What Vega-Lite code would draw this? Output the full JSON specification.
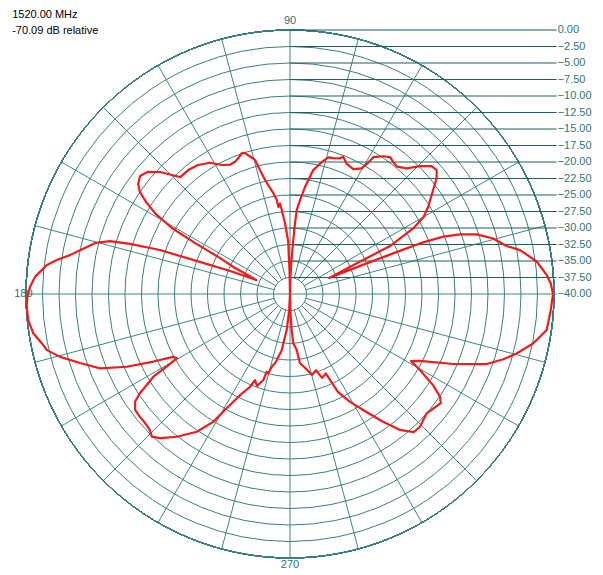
{
  "$schema": "https://vega.github.io/schema/vega-lite/v6.json",
  "width": 528,
  "height": 528,
  "autosize": {"type": "none"},
  "padding": {"left": 26, "top": 30, "right": 49, "bottom": 17},
  "background": "white",
  "config": {"view": {"stroke": null}},
  "datasets": {
    "rings": [
      {"db": 0}, {"db": -2.5}, {"db": -5}, {"db": -7.5}, {"db": -10}, {"db": -12.5}, {"db": -15}, {"db": -17.5},
      {"db": -20}, {"db": -22.5}, {"db": -25}, {"db": -27.5}, {"db": -30}, {"db": -32.5}, {"db": -35}, {"db": -37.5}, {"db": -40}
    ],
    "spokes": [
      {"a": 15}, {"a": 30}, {"a": 45}, {"a": 60}, {"a": 75}, {"a": 105}, {"a": 120}, {"a": 135}, {"a": 150}, {"a": 165},
      {"a": 195}, {"a": 210}, {"a": 225}, {"a": 240}, {"a": 255}, {"a": 285}, {"a": 300}, {"a": 315}, {"a": 330}, {"a": 345}
    ],
    "pattern": [
      {"angle": 0, "db": -0.15}, {"angle": 2.35, "db": -0.47}, {"angle": 4.2, "db": -1.0}, {"angle": 7.5, "db": -2.3},
      {"angle": 10.8, "db": -4.5}, {"angle": 12.5, "db": -6.4}, {"angle": 15.3, "db": -8.1}, {"angle": 17.7, "db": -10.3},
      {"angle": 19.35, "db": -12.7}, {"angle": 20.5, "db": -15.2}, {"angle": 21.3, "db": -18.9}, {"angle": 21.5, "db": -23.2},
      {"angle": 21.8, "db": -27.5}, {"angle": 22.3, "db": -33.6}, {"angle": 24.9, "db": -27.8}, {"angle": 25.6, "db": -23.2},
      {"angle": 28.05, "db": -18.8}, {"angle": 30.0, "db": -16.6}, {"angle": 32.3, "db": -15.2}, {"angle": 36.0, "db": -13.2},
      {"angle": 38.3, "db": -11.7}, {"angle": 40.2, "db": -10.9}, {"angle": 42.1, "db": -11.1}, {"angle": 44.6, "db": -12.4},
      {"angle": 47.1, "db": -14.0}, {"angle": 50.0, "db": -14.8}, {"angle": 52.0, "db": -14.6}, {"angle": 53.8, "db": -14.3},
      {"angle": 55.9, "db": -14.8}, {"angle": 58.6, "db": -15.7}, {"angle": 59.2, "db": -16.8}, {"angle": 60.3, "db": -18.1},
      {"angle": 63.1, "db": -18.8}, {"angle": 66.4, "db": -18.5}, {"angle": 68.8, "db": -17.7}, {"angle": 69.8, "db": -18.1},
      {"angle": 72.3, "db": -18.4}, {"angle": 74.3, "db": -18.5}, {"angle": 76.0, "db": -19.2}, {"angle": 79.4, "db": -20.9},
      {"angle": 82.0, "db": -23.6}, {"angle": 83.9, "db": -25.7}, {"angle": 85.4, "db": -27.2}, {"angle": 86.0, "db": -29.3},
      {"angle": 86.5, "db": -31.8}, {"angle": 87.5, "db": -35.0}, {"angle": 88.5, "db": -37.5}, {"angle": 90, "db": -40},
      {"angle": 91.2, "db": -36.5}, {"angle": 92.0, "db": -32.0}, {"angle": 94.0, "db": -29.3}, {"angle": 95.6, "db": -27.2},
      {"angle": 96.3, "db": -26.2}, {"angle": 97.6, "db": -26.7}, {"angle": 98.0, "db": -25.6}, {"angle": 99.4, "db": -24.5},
      {"angle": 101.3, "db": -23.2}, {"angle": 102.8, "db": -21.8}, {"angle": 104.0, "db": -20.1}, {"angle": 104.6, "db": -19.0},
      {"angle": 106.2, "db": -18.3}, {"angle": 107.7, "db": -17.6}, {"angle": 108.9, "db": -17.45}, {"angle": 110.9, "db": -18.0},
      {"angle": 112.6, "db": -18.3}, {"angle": 114.9, "db": -18.4}, {"angle": 117.8, "db": -17.9}, {"angle": 121.4, "db": -16.7},
      {"angle": 125.5, "db": -16.0}, {"angle": 129.4, "db": -15.7}, {"angle": 133.2, "db": -15.7}, {"angle": 134.8, "db": -14.6},
      {"angle": 136.8, "db": -13.0}, {"angle": 139.3, "db": -11.6}, {"angle": 141.8, "db": -11.1}, {"angle": 144.1, "db": -11.6},
      {"angle": 145.8, "db": -12.5}, {"angle": 147.4, "db": -14.1}, {"angle": 149.2, "db": -16.3}, {"angle": 150.8, "db": -19.5},
      {"angle": 151.8, "db": -23.7}, {"angle": 152.8, "db": -28.1}, {"angle": 154.5, "db": -30.5}, {"angle": 157.5, "db": -34.5},
      {"angle": 159.0, "db": -30.3}, {"angle": 160.4, "db": -25.5}, {"angle": 161.3, "db": -19.2}, {"angle": 162.6, "db": -14.6},
      {"angle": 163.6, "db": -11.6}, {"angle": 165.3, "db": -9.5}, {"angle": 168.2, "db": -7.5}, {"angle": 169.9, "db": -6.2},
      {"angle": 171.7, "db": -4.3}, {"angle": 173.2, "db": -2.9}, {"angle": 176.1, "db": -1.3}, {"angle": 178.4, "db": -0.6},
      {"angle": 180.6, "db": -0.2}, {"angle": 182.8, "db": -0.06}, {"angle": 185.7, "db": -0.15}, {"angle": 188.7, "db": -0.65},
      {"angle": 191.2, "db": -1.65}, {"angle": 193.0, "db": -2.2}, {"angle": 195.3, "db": -3.9}, {"angle": 198.2, "db": -6.5},
      {"angle": 201.4, "db": -9.1}, {"angle": 204.0, "db": -12.9}, {"angle": 206.3, "db": -16.9}, {"angle": 208.3, "db": -19.9},
      {"angle": 209.6, "db": -20.3}, {"angle": 210.5, "db": -18.3}, {"angle": 211.2, "db": -15.8}, {"angle": 213.5, "db": -12.7},
      {"angle": 214.8, "db": -11.4}, {"angle": 216.8, "db": -10.7}, {"angle": 219.3, "db": -10.6}, {"angle": 221.7, "db": -10.6},
      {"angle": 224.2, "db": -10.4}, {"angle": 225.9, "db": -9.9}, {"angle": 228.0, "db": -10.6}, {"angle": 231.6, "db": -12.4},
      {"angle": 235.9, "db": -14.8}, {"angle": 239.0, "db": -17.4}, {"angle": 241.0, "db": -20.2}, {"angle": 243.7, "db": -22.9},
      {"angle": 246.7, "db": -24.7}, {"angle": 247.9, "db": -25.9}, {"angle": 250.3, "db": -25.2}, {"angle": 252.8, "db": -26.4},
      {"angle": 253.3, "db": -27.7}, {"angle": 254.7, "db": -27.5}, {"angle": 255.9, "db": -28.6}, {"angle": 258.3, "db": -29.5},
      {"angle": 261.6, "db": -31.4}, {"angle": 263.3, "db": -33.5}, {"angle": 264.8, "db": -34.5}, {"angle": 267.0, "db": -37.5},
      {"angle": 270, "db": -40}, {"angle": 271.5, "db": -37.0}, {"angle": 272.7, "db": -34.5}, {"angle": 273.8, "db": -32.5},
      {"angle": 276.8, "db": -31.5}, {"angle": 278.2, "db": -29.4}, {"angle": 281.5, "db": -28.6}, {"angle": 285.2, "db": -27.3},
      {"angle": 288.9, "db": -27.8}, {"angle": 290.9, "db": -26.4}, {"angle": 294.2, "db": -26.8}, {"angle": 296.1, "db": -23.5},
      {"angle": 299.1, "db": -21.3}, {"angle": 302.7, "db": -18.9}, {"angle": 305.9, "db": -16.2}, {"angle": 309.0, "db": -13.5},
      {"angle": 311.9, "db": -11.9}, {"angle": 314.4, "db": -11.85}, {"angle": 316.5, "db": -12.2}, {"angle": 319.0, "db": -12.5},
      {"angle": 324.1, "db": -11.8}, {"angle": 325.6, "db": -12.45}, {"angle": 327.5, "db": -14.3}, {"angle": 329.7, "db": -17.2},
      {"angle": 331.0, "db": -19.05}, {"angle": 332.8, "db": -17.86}, {"angle": 336.8, "db": -13.08}, {"angle": 340.4, "db": -8.36},
      {"angle": 343.0, "db": -6.2}, {"angle": 345.3, "db": -4.5}, {"angle": 348.5, "db": -2.42}, {"angle": 352.0, "db": -0.73},
      {"angle": 356.5, "db": -0.42}, {"angle": 360, "db": -0.15}
    ]
  },
  "layer": [
    {
      "data": {"name": "rings"},
      "mark": {"type": "arc", "theta": 0, "theta2": 6.2832, "filled": false, "stroke": "#3a7e7e", "strokeWidth": 1},
      "encoding": {
        "radius": {"field": "db", "type": "quantitative", "stack": null, "scale": {"type": "linear", "domain": [-40, 0], "range": [0, 264], "zero": false}}
      }
    },
    {
      "data": {"name": "spokes"},
      "transform": [
        {"calculate": "2.5*cos(datum.a*PI/180)", "as": "xa"},
        {"calculate": "2.5*sin(datum.a*PI/180)", "as": "ya"},
        {"calculate": "40*cos(datum.a*PI/180)", "as": "xb"},
        {"calculate": "40*sin(datum.a*PI/180)", "as": "yb"}
      ],
      "mark": {"type": "rule", "stroke": "#3f8585", "strokeWidth": 1},
      "encoding": {
        "x": {"field": "xa", "type": "quantitative", "scale": {"domain": [-40, 40], "nice": false, "zero": false}, "axis": null},
        "y": {"field": "ya", "type": "quantitative", "scale": {"domain": [-40, 40], "nice": false, "zero": false}, "axis": null},
        "x2": {"field": "xb"},
        "y2": {"field": "yb"}
      }
    },
    {
      "data": {"values": [{"x1": -40, "y1": 0, "x2": 40.4, "y2": 0}, {"x1": 0, "y1": -40, "x2": 0, "y2": 40}]},
      "mark": {"type": "rule", "stroke": "#3f8585", "strokeWidth": 1},
      "encoding": {
        "x": {"field": "x1", "type": "quantitative", "scale": {"domain": [-40, 40], "nice": false, "zero": false}, "axis": null},
        "y": {"field": "y1", "type": "quantitative", "scale": {"domain": [-40, 40], "nice": false, "zero": false}, "axis": null},
        "x2": {"field": "x2"},
        "y2": {"field": "y2"}
      }
    },
    {
      "data": {"name": "rings"},
      "transform": [{"filter": "datum.db > -40"}, {"calculate": "datum.db + 40", "as": "r"}],
      "mark": {"type": "rule", "stroke": "#1f5f5f", "strokeWidth": 1},
      "encoding": {
        "x": {"datum": 0, "type": "quantitative", "scale": {"domain": [-40, 40], "nice": false, "zero": false}, "axis": null},
        "x2": {"datum": 40.4},
        "y": {"field": "r", "type": "quantitative", "scale": {"domain": [-40, 40], "nice": false, "zero": false}, "axis": null}
      }
    },
    {
      "data": {"name": "rings"},
      "transform": [{"calculate": "datum.db + 40", "as": "r"}],
      "mark": {"type": "text", "align": "left", "baseline": "middle", "font": "Liberation Sans", "fontSize": 11, "color": "#2f7474", "dx": 1},
      "encoding": {
        "x": {"datum": 40.4, "type": "quantitative", "scale": {"domain": [-40, 40], "nice": false, "zero": false}, "axis": null},
        "y": {"field": "r", "type": "quantitative", "scale": {"domain": [-40, 40], "nice": false, "zero": false}, "axis": null},
        "text": {"field": "db", "type": "quantitative", "format": ".2f"}
      }
    },
    {
      "data": {"values": [
        {"lab": "90", "lx": 0, "ly": 41.3, "al": "center"},
        {"lab": "270", "lx": 0, "ly": -41.0, "al": "center"},
        {"lab": "180", "lx": -40.4, "ly": 0, "al": "right"}
      ]},
      "mark": {"type": "text", "baseline": "middle", "font": "Liberation Sans", "fontSize": 11, "color": "#2f7474"},
      "encoding": {
        "x": {"field": "lx", "type": "quantitative", "scale": {"domain": [-40, 40], "nice": false, "zero": false}, "axis": null},
        "y": {"field": "ly", "type": "quantitative", "scale": {"domain": [-40, 40], "nice": false, "zero": false}, "axis": null},
        "text": {"field": "lab"},
        "align": {"field": "al", "type": "nominal", "scale": null, "legend": null}
      }
    },
    {
      "data": {"name": "pattern"},
      "transform": [
        {"calculate": "max(0, datum.db + 40)", "as": "rr"},
        {"calculate": "datum.rr*cos(datum.angle*PI/180)", "as": "px"},
        {"calculate": "datum.rr*sin(datum.angle*PI/180)", "as": "py"}
      ],
      "mark": {"type": "line", "stroke": "#ee1c1c", "strokeWidth": 2.2, "strokeJoin": "round"},
      "encoding": {
        "x": {"field": "px", "type": "quantitative", "scale": {"domain": [-40, 40], "nice": false, "zero": false}, "axis": null},
        "y": {"field": "py", "type": "quantitative", "scale": {"domain": [-40, 40], "nice": false, "zero": false}, "axis": null},
        "order": {"field": "angle", "type": "quantitative"}
      }
    },
    {
      "data": {"values": [
        {"t": "1520.00 MHz", "hx": -42.1, "hy": 42.2},
        {"t": "-70.09 dB relative", "hx": -42.1, "hy": 39.85}
      ]},
      "mark": {"type": "text", "align": "left", "baseline": "middle", "font": "Liberation Sans", "fontSize": 11, "color": "#000000"},
      "encoding": {
        "x": {"field": "hx", "type": "quantitative", "scale": {"domain": [-40, 40], "nice": false, "zero": false}, "axis": null},
        "y": {"field": "hy", "type": "quantitative", "scale": {"domain": [-40, 40], "nice": false, "zero": false}, "axis": null},
        "text": {"field": "t"}
      }
    }
  ]
}
